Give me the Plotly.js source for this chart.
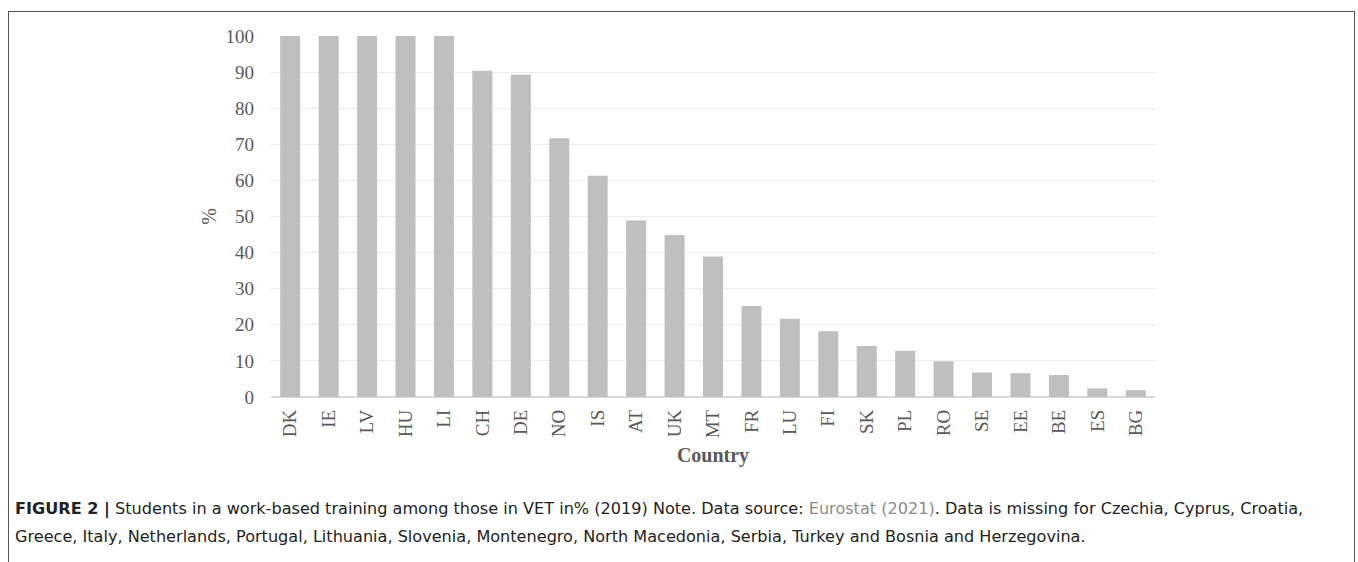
<!DOCTYPE html>
<html>
<head>
<meta charset="utf-8">
<script src="https://cdn.plot.ly/plotly-3.0.1.min.js"></script>
<style>
  html, body { margin: 0; padding: 0; background: #ffffff; }
  #chart { width: 1358px; height: 562px; position: relative; }
  #frame { position: absolute; left: 8px; top: 11px; width: 1347px; height: 600px;
           border: 1.5px solid #555555; pointer-events: none; box-sizing: border-box; }
</style>
</head>
<body>
<div id="wrap" style="position:relative;width:1358px;height:562px;overflow:hidden;">
  <div id="chart"></div>
  <div id="frame"></div>
</div>
<script>
const countries = ["DK","IE","LV","HU","LI","CH","DE","NO","IS","AT","UK","MT","FR","LU","FI","SK","PL","RO","SE","EE","BE","ES","BG"];
const shares = [100,100,100,100,100,90.4,89.3,71.7,61.3,48.9,44.9,38.9,25.2,21.7,18.2,14.1,12.8,9.9,6.8,6.6,6.1,2.4,1.9];
const yTicks = [0,10,20,30,40,50,60,70,80,90,100];
const captionLine1 = "<b>FIGURE 2 |</b> Students in a work-based training among those in VET in% (2019) Note. Data source: <span style='color:#8a8a8a'>Eurostat (2021)</span>. Data is missing for Czechia, Cyprus, Croatia,";
const captionLine2 = "Greece, Italy, Netherlands, Portugal, Lithuania, Slovenia, Montenegro, North Macedonia, Serbia, Turkey and Bosnia and Herzegovina.";

const L = 271, R = 203, T = 36, B = 164.5;
const plotW = 1358 - L - R, plotH = 562 - T - B;
const px2xp = x => (x - L) / plotW;
const py2yp = y => (562 - B - y) / plotH;

const trace = {
  type: "bar",
  x: countries,
  y: shares,
  marker: { color: "#bfbfbf" },
  hoverinfo: "x+y"
};

const serif = "Liberation Serif, Times New Roman, serif";
const capFont = { family: "DejaVu Sans, Liberation Sans, Arial, sans-serif", size: 16.1, color: "#222222" };
const layout = {
  width: 1358, height: 562,
  margin: { l: L, r: R, t: T, b: B },
  paper_bgcolor: "#ffffff", plot_bgcolor: "#ffffff",
  bargap: 0.48,
  showlegend: false,
  xaxis: {
    type: "category",
    tickangle: -90,
    ticks: "",
    ticklabelstandoff: 8,
    tickfont: { family: serif, size: 19, color: "#595959" },
    showgrid: false,
    showline: false,
    zeroline: false,
    title: { text: "<b>Country</b>", font: { family: serif, size: 20, color: "#595959" }, standoff: 10 }
  },
  yaxis: {
    range: [0, 100],
    tickvals: yTicks,
    ticktext: yTicks.map(String),
    ticks: "",
    ticklabelstandoff: 16,
    tickfont: { family: serif, size: 19, color: "#595959" },
    showgrid: true,
    gridcolor: "#ececec",
    gridwidth: 1,
    zeroline: true,
    zerolinecolor: "#d9d9d9",
    zerolinewidth: 2,
    showline: false,
    title: { text: "%", font: { family: serif, size: 20, color: "#595959" }, standoff: 3 }
  },
  annotations: [
    { xref: "paper", yref: "paper", x: px2xp(13), y: py2yp(510), xanchor: "left", yanchor: "middle",
      showarrow: false, align: "left", text: captionLine1, font: capFont },
    { xref: "paper", yref: "paper", x: px2xp(13), y: py2yp(537), xanchor: "left", yanchor: "middle",
      showarrow: false, align: "left", text: captionLine2, font: capFont }
  ]
};

Plotly.newPlot("chart", [trace], layout, { displayModeBar: false, staticPlot: true });
</script>
</body>
</html>
